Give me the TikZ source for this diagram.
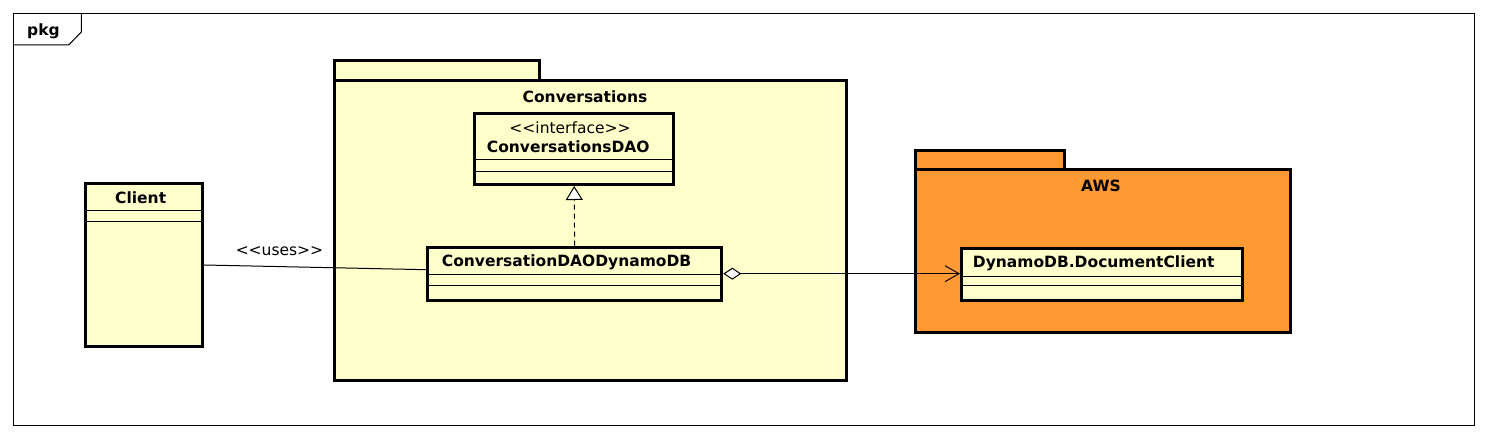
\documentclass[tikz,border=0pt]{standalone}
\usepackage{fontspec}
\setmainfont{DejaVu Sans}
\usetikzlibrary{arrows.meta}
\definecolor{umlgiallo}{HTML}{FFFFCC}
\definecolor{awsarancio}{HTML}{FF9933}
\begin{document}
\fontsize{15.5}{18}\selectfont
\begin{tikzpicture}[x=1pt, y=-1pt,
        classe/.style={draw, line width=3pt, fill=umlgiallo, inner sep=0pt, anchor=north west},
        nome/.style={font=\bfseries, inner sep=0pt},
        stereo/.style={inner sep=0pt},
        divisore/.style={line width=1pt},
        pacchetto/.style={draw, line width=3pt, line join=miter},
        linea/.style={line width=1pt}]
        \useasboundingbox (0,0) rectangle (1488,438);

        % Cornice (frame pkg)
        \draw[line width=1pt] (13.3,13.3) rectangle (1474.3,425);
        \draw[line width=1pt] (81.3,13.3) -- (81.3,32) -- (68.7,45) -- (13.3,45);
        \node[nome, anchor=base west] (pkgname) at (27,36) {pkg};

        % Pacchetto Conversations
        \filldraw[pacchetto, fill=umlgiallo] (334,61) rectangle (539,80.7);
        \filldraw[pacchetto, fill=umlgiallo] (334,80.7) rectangle (846,380);
        \node[nome, anchor=base] (convname) at (585,102.7) {Conversations};

        % Pacchetto AWS
        \filldraw[pacchetto, fill=awsarancio] (915,150.7) rectangle (1064,170);
        \filldraw[pacchetto, fill=awsarancio] (915,170) rectangle (1290,332.8);
        \node[nome, anchor=base] (awsname) at (1101,191.7) {AWS};

        % Classi
        \node[classe, minimum width=117.5pt, minimum height=163pt] (client) at (83.5,182) {};
        \node[classe, minimum width=198.7pt, minimum height=70.7pt] (dao) at (473.3,112.3) {};
        \node[classe, minimum width=294.3pt, minimum height=53pt] (daodyn) at (426,245.7) {};
        \node[classe, minimum width=281.3pt, minimum height=51.4pt] (docclient) at (960,247.3) {};

        % Compartimenti
        \draw[divisore] ([yshift=-29pt]client.north west) -- ([yshift=-29pt]client.north east);
        \draw[divisore] ([yshift=-40pt]client.north west) -- ([yshift=-40pt]client.north east);
        \draw[divisore] ([yshift=-47.7pt]dao.north west) -- ([yshift=-47.7pt]dao.north east);
        \draw[divisore] ([yshift=-59pt]dao.north west) -- ([yshift=-59pt]dao.north east);
        \draw[divisore] ([yshift=-29.3pt]daodyn.north west) -- ([yshift=-29.3pt]daodyn.north east);
        \draw[divisore] ([yshift=-40pt]daodyn.north west) -- ([yshift=-40pt]daodyn.north east);
        \draw[divisore] ([yshift=-29.4pt]docclient.north west) -- ([yshift=-29.4pt]docclient.north east);
        \draw[divisore] ([yshift=-38.7pt]docclient.north west) -- ([yshift=-38.7pt]docclient.north east);

        % Nomi delle classi
        \node[nome, anchor=base] (clientname) at (140.7,204) {Client};
        \node[stereo, anchor=base] (daostereo) at (570,133.3) {<\kern0pt<interface>\kern0pt>};
        \node[nome, anchor=base west] (daoname) at (486.7,152.7) {ConversationsDAO};
        \node[nome, anchor=base west] (daodynname) at (441.7,266.7) {ConversationDAODynamoDB};
        \node[nome, anchor=base west] (docclientname) at (972.7,267.7) {DynamoDB.DocumentClient};

        % Relazioni
        \draw[linea] (client.east) -- node[pos=0.34, above=10pt, inner sep=0pt] (uses) {<\kern0pt<uses>\kern0pt>} ([yshift=4pt]daodyn.west);
        \draw[linea, dash pattern=on 5pt off 4pt, -{Triangle[length=14pt, width=17pt, fill=white]}] (daodyn.north) -- (dao.south);
        \draw[linea, {Diamond[length=18pt, width=12pt, fill=white]}-{Straight Barb[length=14pt, width=16pt]}] (daodyn.east) -- (daodyn.east -| docclient.west);

    \end{tikzpicture}
\end{document}
